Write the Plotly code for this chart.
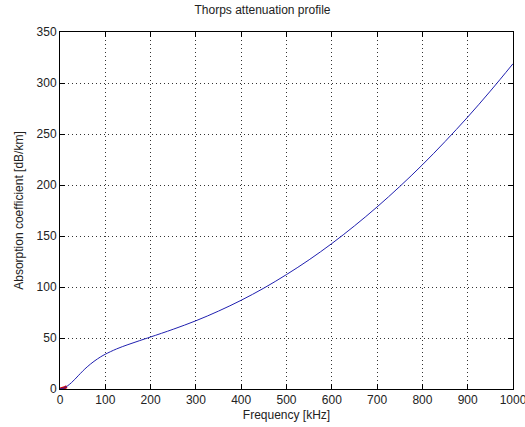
import plotly.graph_objects as go

freq_khz = [0, 10, 25, 40, 50, 60, 75, 90, 100, 125, 150, 175, 200, 250, 300, 350,
            400, 450, 500, 550, 600, 650, 700, 750, 800, 850, 900, 950, 1000]
absorption_db_km = [0.0, 1.2, 6.1, 12.9, 17.5, 21.7, 27.1, 31.6, 34.1, 39.3, 43.5,
                    47.3, 51.0, 58.6, 66.9, 76.4, 87.0, 98.9, 112.2, 126.7, 142.6,
                    159.9, 178.5, 198.5, 219.8, 242.6, 266.6, 292.1, 318.9]
red_freq = [0, 5, 10, 15]
red_vals = [0.0, 0.4, 1.2, 2.3]

x_ticks = [0, 100, 200, 300, 400, 500, 600, 700, 800, 900, 1000]
y_ticks = [0, 50, 100, 150, 200, 250, 300, 350]

fig = go.Figure()
fig.add_trace(go.Scatter(x=red_freq, y=red_vals, mode="lines",
                         line=dict(color="#d00000", width=3), showlegend=False))
fig.add_trace(go.Scatter(x=freq_khz, y=absorption_db_km, mode="lines",
                         line=dict(color="#2020b0", width=1, shape="spline"),
                         showlegend=False))

font = "Liberation Sans, Arial, sans-serif"
axis_common = dict(showline=True, linecolor="black", linewidth=1, mirror="ticks",
                   ticks="inside", ticklen=5, tickcolor="black",
                   showgrid=True, gridcolor="#333", griddash="1px,3px", gridwidth=1,
                   zeroline=False, ticklabeloverflow="allow", automargin=False,
                   tickfont=dict(family=font, size=12, color="#222"))

fig.update_layout(
    width=525, height=427,
    margin=dict(l=60, r=12, t=32, b=38),
    paper_bgcolor="white", plot_bgcolor="white",
    title=dict(text="Thorps attenuation profile", x=0.5, xanchor="center",
               y=1 - 10 / 427, yanchor="middle",
               font=dict(family=font, size=12, color="#222")),
    xaxis=dict(range=[0, 1000.001], tickvals=x_ticks,
               title=dict(text="Frequency [kHz]", standoff=4,
                          font=dict(family=font, size=12, color="#222")),
               **axis_common),
    yaxis=dict(range=[0, 350.001], tickvals=y_ticks,
               title=dict(text="Absorption coefficient [dB/km]", standoff=10,
                          font=dict(family=font, size=12, color="#222")),
               **axis_common),
)

fig.write_html("out.html")
